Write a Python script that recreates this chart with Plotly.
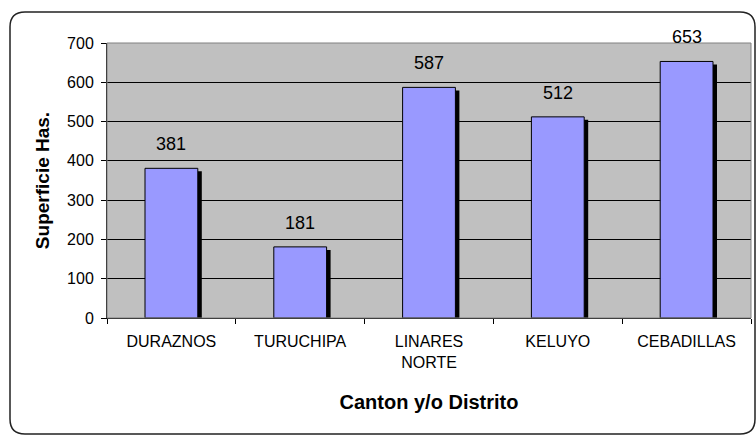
import plotly.graph_objects as go

categories = ["DURAZNOS", "TURUCHIPA", "LINARES<br>NORTE", "KELUYO", "CEBADILLAS"]
values = [381, 181, 587, 512, 653]
y_ticks = [0, 100, 200, 300, 400, 500, 600, 700]

FONT = "Arial, 'Liberation Sans', sans-serif"
BAR_W = 0.41
SHADOW_DX = 0.031
SHADOW_DY = 7.6

fig = go.Figure()
# shadow
fig.add_trace(go.Bar(
    x=categories, y=values, base=[-SHADOW_DY] * len(values),
    width=BAR_W, offset=-BAR_W / 2 + SHADOW_DX,
    marker=dict(color="black", line=dict(width=0)),
    hoverinfo="skip", showlegend=False,
))
# bars
fig.add_trace(go.Bar(
    x=categories, y=values,
    width=BAR_W, offset=-BAR_W / 2,
    marker=dict(color="#9999FF", line=dict(color="black", width=1)),
    showlegend=False,
))

for c, v in zip(categories, values):
    fig.add_annotation(x=c, y=v, text=str(v), showarrow=False, yshift=24,
                       font=dict(family=FONT, size=18, color="black"))

# plot-area grey border
fig.add_shape(type="rect", xref="paper", yref="paper", x0=0, x1=1, y0=0, y1=1,
              line=dict(color="#808080", width=1), layer="above")

# rounded outer chart border
L, T, W, H = 107, 43, 644, 275
def px(x): return (x - L) / W
def py(y): return (T + H - y) / H
x0, x1, y0, y1 = px(10), px(755), py(434), py(12)
rx, ry = 15 / W, 15 / H
path = (f"M {x0+rx},{y1} L {x1-rx},{y1} Q {x1},{y1} {x1},{y1-ry} "
        f"L {x1},{y0+ry} Q {x1},{y0} {x1-rx},{y0} L {x0+rx},{y0} "
        f"Q {x0},{y0} {x0},{y0+ry} L {x0},{y1-ry} Q {x0},{y1} {x0+rx},{y1} Z")
fig.add_shape(type="path", xref="paper", yref="paper", path=path,
              line=dict(color="#222222", width=1.5))

fig.update_layout(
    width=756, height=436,
    margin=dict(l=L, r=756 - L - W, t=T, b=436 - T - H),
    paper_bgcolor="white", plot_bgcolor="#C0C0C0",
    barmode="overlay",
    font=dict(family=FONT, color="black"),
    xaxis=dict(
        showline=True, linecolor="black", linewidth=1,
        ticks="outside", tickson="boundaries", ticklen=5, tickcolor="black",
        tickfont=dict(size=16), showgrid=False, ticklabelstandoff=9,
        title=dict(text="<b>Canton y/o Distrito</b>", font=dict(size=20), standoff=24),
    ),
    yaxis=dict(
        range=[0, 700], tickvals=y_ticks,
        showline=True, linecolor="black", linewidth=1,
        ticks="outside", ticklen=5, tickcolor="black",
        tickfont=dict(size=16), ticklabelstandoff=4,
        showgrid=True, gridcolor="black", gridwidth=1, zeroline=False,
        title=dict(text="<b>Superficie Has.</b>", font=dict(size=19), standoff=12),
    ),
)

fig.write_html("out.html", config={"displayModeBar": False},
               post_script="document.body.style.margin='0';")
